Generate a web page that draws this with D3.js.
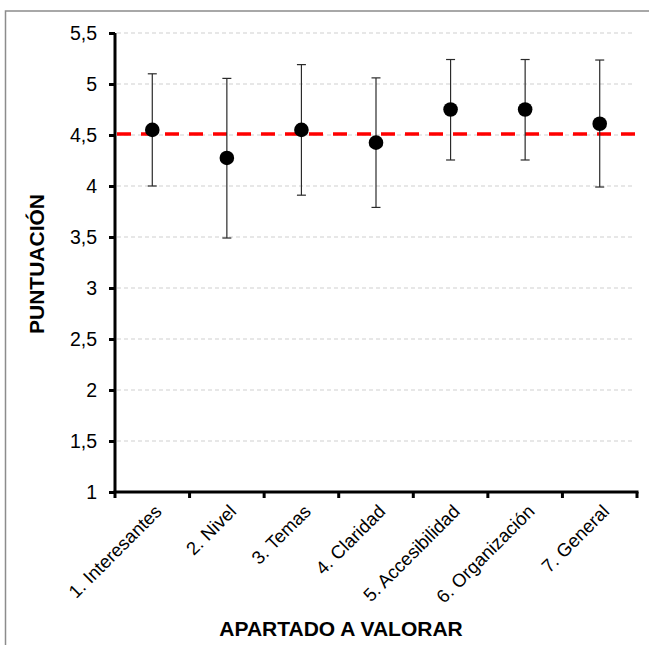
<!DOCTYPE html>
<html><head><meta charset="utf-8">
<script src="https://cdn.jsdelivr.net/npm/d3@7"></script>
<style>
html,body{margin:0;padding:0;background:#fff;}
svg{display:block;font-family:"Liberation Sans",Arial,sans-serif;}
</style></head>
<body>
<svg id="chart" width="649" height="645"></svg>
<script>
const categories = ["1. Interesantes","2. Nivel","3. Temas","4. Claridad","5. Accesibilidad","6. Organización","7. General"];
const means = [4.55, 4.275, 4.55, 4.425, 4.75, 4.75, 4.61];
const upper = [5.10, 5.055, 5.19, 5.06, 5.24, 5.24, 5.235];
const lower = [4.00, 3.49, 3.91, 3.79, 4.255, 4.255, 3.99];
const referenceValue = 4.51;
const yTicks = [1,1.5,2,2.5,3,3.5,4,4.5,5,5.5];
const yTitle = "PUNTUACIÓN";
const xTitle = "APARTADO A VALORAR";

const svg = d3.select("#chart");
const mL = 115, mR = 637, mT = 33, mB = 492;

// outer border
svg.append("rect").attr("x",5.5).attr("y",11).attr("width",700).attr("height",700)
  .attr("fill","none").attr("stroke","#8c8c8c").attr("stroke-width",1.5);

const x = d3.scaleBand().domain(categories).range([mL,mR]).padding(0);
const y = d3.scaleLinear().domain([1,5.5]).range([mB,mT]);

// grid
svg.append("g").selectAll("line").data(yTicks.slice(1)).join("line")
  .attr("x1",mL+2).attr("x2",633)
  .attr("y1",d=>y(d)).attr("y2",d=>y(d))
  .attr("stroke","#cfcfcf").attr("stroke-width",1).attr("stroke-dasharray","4,3");

// y axis
const fmt = d => String(d).replace(".",",");
const yAxis = svg.append("g").attr("transform",`translate(${mL},0)`)
  .call(d3.axisLeft(y).tickValues(yTicks).tickFormat(fmt).tickSize(6).tickPadding(12));
yAxis.select(".domain").attr("stroke","#000").attr("stroke-width",3).attr("d",`M0,${mT}V${mB}`);
yAxis.selectAll(".tick line").attr("stroke","#000").attr("stroke-width",3);
yAxis.selectAll(".tick text").attr("font-size",19.5).attr("fill","#000")
  .attr("font-family","'Liberation Sans',Arial,sans-serif");

// x axis
const xAxis = svg.append("g").attr("transform",`translate(0,${mB})`);
xAxis.append("line").attr("x1",mL-1.5).attr("x2",mR+1.5).attr("stroke","#000").attr("stroke-width",3);
const boundaries = categories.map(c=>x(c)).concat([x.range()[1]]);
xAxis.selectAll("line.tk").data(boundaries).join("line").attr("class","tk")
  .attr("x1",d=>d).attr("x2",d=>d).attr("y1",0).attr("y2",6)
  .attr("stroke","#000").attr("stroke-width",3);
xAxis.selectAll("text").data(categories).join("text")
  .attr("transform",d=>`translate(${x(d)+x.bandwidth()/2+6},${16}) rotate(-45)`)
  .attr("text-anchor","end").attr("dy","0.35em")
  .attr("font-size",18.5).attr("fill","#000").text(d=>d);

// reference line
svg.append("line").attr("x1",mL+2).attr("x2",mR+1)
  .attr("y1",y(referenceValue)).attr("y2",y(referenceValue))
  .attr("stroke","#ff0000").attr("stroke-width",3.5).attr("stroke-dasharray","14,10");

// error bars
const cx = i => x(categories[i]) + x.bandwidth()/2;
const eb = svg.append("g").attr("stroke","#2a2a2a").attr("stroke-width",1.2);
categories.forEach((c,i)=>{
  eb.append("line").attr("x1",cx(i)).attr("x2",cx(i)).attr("y1",y(upper[i])).attr("y2",y(lower[i]));
  eb.append("line").attr("x1",cx(i)-4.5).attr("x2",cx(i)+4.5).attr("y1",y(upper[i])).attr("y2",y(upper[i]));
  eb.append("line").attr("x1",cx(i)-4.5).attr("x2",cx(i)+4.5).attr("y1",y(lower[i])).attr("y2",y(lower[i]));
});

// points
svg.append("g").selectAll("circle").data(means).join("circle")
  .attr("cx",(d,i)=>cx(i)).attr("cy",d=>y(d)).attr("r",7.3).attr("fill","#000");

// titles
svg.append("text").attr("transform",`translate(44,264) rotate(-90)`)
  .attr("text-anchor","middle").attr("font-size",21).attr("font-weight","bold").text(yTitle);
svg.append("text").attr("x",341).attr("y",636)
  .attr("text-anchor","middle").attr("font-size",21).attr("font-weight","bold").text(xTitle);
</script>
</body></html>
